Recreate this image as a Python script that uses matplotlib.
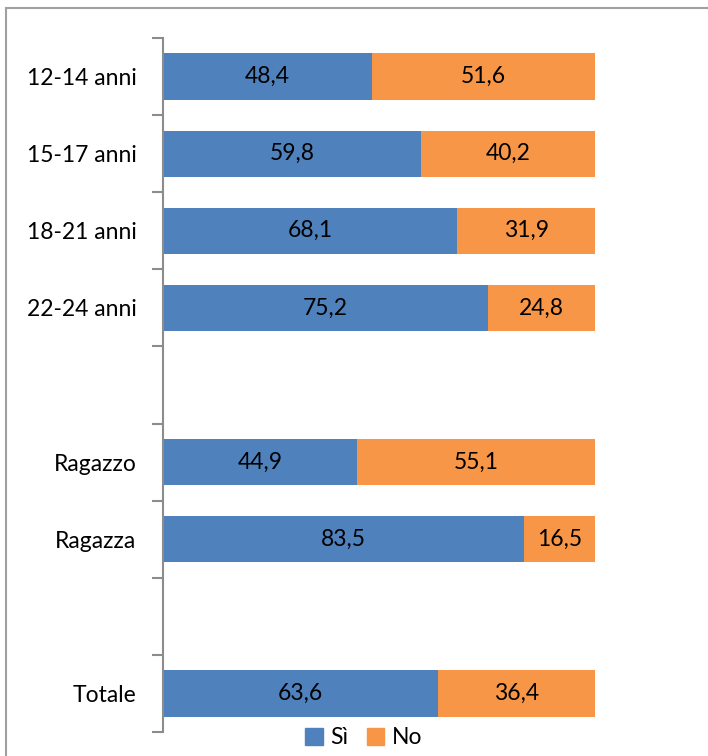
import matplotlib.pyplot as plt
from matplotlib.patches import Rectangle, Patch

# Categories, '' = empty slot in the chart
categorie = ['12-14 anni', '15-17 anni', '18-21 anni', '22-24 anni', '',
             'Ragazzo', 'Ragazza', '', 'Totale']
si = [48.4, 59.8, 68.1, 75.2, None, 44.9, 83.5, None, 63.6]
no = [51.6, 40.2, 31.9, 24.8, None, 55.1, 16.5, None, 36.4]

blu = '#4F81BD'
arancio = '#F79646'
grigio = '#8C8C8C'

plt.rcParams['font.family'] = ['Lato', 'DejaVu Sans']
fs = 16.5

fig = plt.figure(figsize=(7.08, 7.56), dpi=100)
ax = fig.add_axes([163/708, 24/756, 432/708, 694/756])

# outer frame of the chart area
fig.patches.append(Rectangle((6/708, -0.05), 1.1, 1 - 8/756 + 0.05,
                             transform=fig.transFigure, fill=False,
                             edgecolor='#A0A0A0', linewidth=1.5))

for i, (s, n) in enumerate(zip(si, no)):
    if s is None:
        continue
    y = i + 0.5
    ax.barh(y, s, height=0.6, color=blu, left=0)
    ax.barh(y, n, height=0.6, color=arancio, left=s)
    ax.text(s / 2, y, ('%.1f' % s).replace('.', ','), ha='center', va='center', fontsize=fs)
    ax.text(s + n / 2, y, ('%.1f' % n).replace('.', ','), ha='center', va='center', fontsize=fs)

ax.set_xlim(0, 100)
ax.set_ylim(len(categorie), 0)

# tick marks at slot boundaries, labels at slot centres
ax.set_yticks(range(len(categorie) + 1))
ax.set_yticklabels([])
ax.set_yticks([i + 0.5 for i in range(len(categorie))], minor=True)
ax.set_yticklabels(categorie, minor=True, fontsize=fs)
ax.tick_params(axis='y', which='major', length=8, width=1.5, color=grigio, direction='out')
ax.tick_params(axis='y', which='minor', length=0, pad=19)
ax.set_xticks([])

for side in ['top', 'right', 'bottom']:
    ax.spines[side].set_visible(False)
ax.spines['left'].set_color(grigio)
ax.spines['left'].set_linewidth(1.5)

handles = [Patch(color=blu, label='Sì'), Patch(color=arancio, label='No')]
fig.legend(handles=handles, loc='center', bbox_to_anchor=(364/708, 1 - 738/756),
           ncol=2, frameon=False, fontsize=fs, handlelength=0.75, handleheight=0.75,
           handletextpad=0.35, columnspacing=0.8)

fig.savefig('out.png', dpi=100)
